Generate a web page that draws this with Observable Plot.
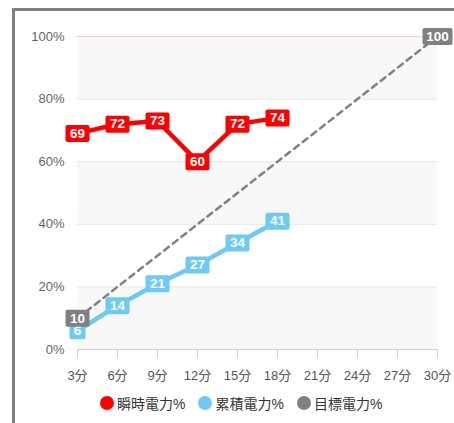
<!DOCTYPE html>
<html><head><meta charset="utf-8">
<script src="https://cdn.jsdelivr.net/npm/d3@7"></script>
<script src="https://cdn.jsdelivr.net/npm/@observablehq/plot@0.6"></script>
<style>
body{margin:0;background:#fff;font-family:Arial,"Liberation Sans","Noto Sans CJK JP",sans-serif;}
#wrap{position:relative;width:454px;height:423px;overflow:hidden}
#frame{position:absolute;left:12px;top:8px;width:460px;height:430px;border-left:3px solid #808080;border-top:3px solid #808080;box-sizing:border-box}
#chart{position:absolute;left:0;top:0}
#legend{position:absolute;left:0;top:390px;height:26px;display:flex;align-items:center;padding-left:100px;font-size:14px;color:#333}
.item{display:flex;align-items:center;margin-right:13px}
.sw{width:14px;height:14px;border-radius:50%;margin-right:3px}
</style></head><body>
<div id="wrap"><div id="frame"></div><div id="chart"></div><div id="legend"></div></div>
<script>
const minutes = [3, 6, 9, 12, 15, 18, 21, 24, 27, 30];
const yTicks = [0, 20, 40, 60, 80, 100];
const seriesNames = ["瞬時電力%", "累積電力%", "目標電力%"];
const seriesColors = ["#ff0000", "#6ccaf4", "#808080"];
const instMinutes = [3, 6, 9, 12, 15, 18];
const instant = [69, 72, 73, 60, 72, 74];
const cumMinutes = [3, 6, 9, 12, 15, 18];
const cumulative = [6, 14, 21, 27, 34, 41];
const targetMinutes = [3, 30];
const target = [10, 100];

const inst = instMinutes.map((x, i) => ({x, y: instant[i], s: seriesNames[0]}));
const cum = cumMinutes.map((x, i) => ({x, y: cumulative[i], s: seriesNames[1]}));
const tgt = targetMinutes.map((x, i) => ({x, y: target[i], s: seriesNames[2]}));
const bands = yTicks.slice(0, -1).map((v, i) => ({y1: v, y2: yTicks[i + 1], i})).filter(d => d.i % 2 === 0);

function boxSymbol(w, h) {
  return {
    draw(ctx) {
      const r = 2, x0 = -w / 2, y0 = -h / 2;
      ctx.moveTo(x0 + r, y0);
      ctx.lineTo(x0 + w - r, y0);
      ctx.arcTo(x0 + w, y0, x0 + w, y0 + r, r);
      ctx.lineTo(x0 + w, y0 + h - r);
      ctx.arcTo(x0 + w, y0 + h, x0 + w - r, y0 + h, r);
      ctx.lineTo(x0 + r, y0 + h);
      ctx.arcTo(x0, y0 + h, x0, y0 + h - r, r);
      ctx.lineTo(x0, y0 + r);
      ctx.arcTo(x0, y0, x0 + r, y0, r);
      ctx.closePath();
    }
  };
}
const widths = {1: 16, 2: 24, 3: 30};
function labelMarks(data) {
  const marks = [];
  for (const k of [1, 2, 3]) {
    const sub = data.filter(d => String(d.y).length === k);
    if (sub.length) marks.push(Plot.dot(sub, {x: "x", y: "y", fill: "s", symbol: boxSymbol(widths[k], 17)}));
  }
  marks.push(Plot.text(data, {x: "x", y: "y", text: d => String(d.y), fill: "white", fontWeight: "bold", fontSize: 13.5, fontFamily: "Arial, 'Liberation Sans', sans-serif"}));
  return marks;
}

const chart = Plot.plot({
  width: 454,
  height: 390,
  marginLeft: 77,
  marginRight: 17,
  marginTop: 36,
  marginBottom: 41,
  style: {fontFamily: "Arial, 'Liberation Sans', 'Noto Sans CJK JP', sans-serif", fontSize: "13px", background: "transparent"},
  x: {domain: [3, 30]},
  y: {domain: [0, 100]},
  color: {domain: seriesNames, range: seriesColors},
  marks: [
    Plot.rect(bands, {x1: 3, x2: 30, y1: "y1", y2: "y2", fill: "#f8f8f8"}),
    Plot.ruleY(yTicks.filter(v => v > 0 && v < 100), {stroke: "#e6e6e6"}),
    Plot.ruleY([100], {stroke: "#ffcccc"}),
    Plot.ruleY([0], {stroke: "#d0d0d0"}),
    Plot.axisX({ticks: minutes, tickFormat: d => d + "分", tickSize: 9, tickPadding: 12, stroke: "#d0d0d0", fill: "#555", fontSize: 13, label: null}),
    Plot.axisY({ticks: yTicks, tickFormat: d => d + "%", tickSize: 0, tickPadding: 13, fill: "#666", fontSize: 13, label: null}),
    Plot.line(tgt, {x: "x", y: "y", stroke: seriesColors[2], strokeWidth: 2.5, strokeDasharray: "6,5"}),
    Plot.line(inst, {x: "x", y: "y", stroke: seriesColors[0], strokeWidth: 4.5}),
    Plot.line(cum, {x: "x", y: "y", stroke: seriesColors[1], strokeWidth: 4.5}),
    ...labelMarks(cum),
    ...labelMarks(inst),
    ...labelMarks(tgt)
  ]
});
document.getElementById("chart").appendChild(chart);

const legend = document.getElementById("legend");
seriesNames.forEach((n, i) => {
  const it = document.createElement("div");
  it.className = "item";
  it.innerHTML = `<span class="sw" style="background:${seriesColors[i]}"></span><span>${n}</span>`;
  legend.appendChild(it);
});
</script>
</body></html>
